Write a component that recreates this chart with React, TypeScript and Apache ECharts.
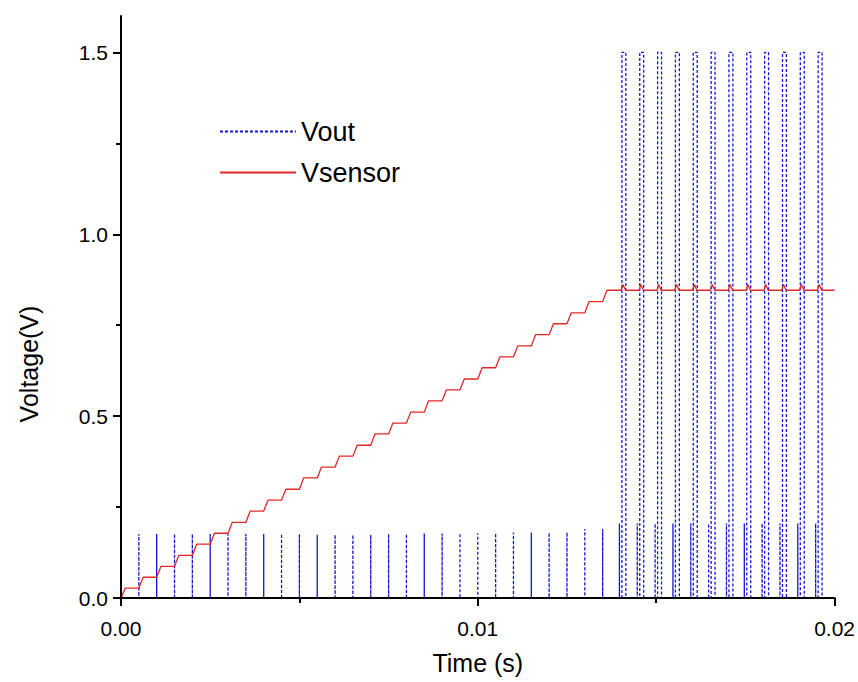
import React, { useEffect, useRef } from "react";
import * as echarts from "echarts";

// Small Vout spikes (time s, peak V) before the pulse train
const spikeTimes = [
  0.0005, 0.001, 0.0015, 0.002, 0.0025, 0.003, 0.0035, 0.004, 0.0045, 0.005,
  0.0055, 0.006, 0.0065, 0.007, 0.0075, 0.008, 0.0085, 0.009, 0.0095, 0.01,
  0.0105, 0.011, 0.0115, 0.012, 0.0125, 0.013, 0.0135,
];
const spikeHeights = [
  0.176, 0.176, 0.176, 0.176, 0.176, 0.176, 0.176, 0.176, 0.176, 0.176,
  0.174, 0.174, 0.174, 0.174, 0.176, 0.176, 0.177, 0.177, 0.178, 0.178,
  0.178, 0.18, 0.18, 0.18, 0.181, 0.19, 0.19,
];

// Pulse train: small spike just before each 1.5 V pulse
const preSpikeTimes = [
  0.01397, 0.01447, 0.01497, 0.01547, 0.01597, 0.01647, 0.01697, 0.01747,
  0.01797, 0.01847, 0.01897, 0.01947,
];
const preSpikeHeights = [
  0.205, 0.205, 0.205, 0.205, 0.205, 0.205, 0.205, 0.205, 0.205, 0.205, 0.205,
  0.205,
];
const pulseRise = [
  0.01404, 0.01454, 0.01504, 0.01554, 0.01604, 0.01654, 0.01704, 0.01754,
  0.01804, 0.01854, 0.01904, 0.01954,
];
const pulseFall = [
  0.01415, 0.01465, 0.01515, 0.01565, 0.01615, 0.01665, 0.01715, 0.01765,
  0.01815, 0.01865, 0.01915, 0.01965,
];
const pulseHigh = [1.5, 1.5, 1.5, 1.5, 1.5, 1.5, 1.5, 1.5, 1.5, 1.5, 1.5, 1.5];

// Vsensor staircase
const stepTimes = [
  0, 0.0005, 0.001, 0.0015, 0.002, 0.0025, 0.003, 0.0035, 0.004, 0.0045,
  0.005, 0.0055, 0.006, 0.0065, 0.007, 0.0075, 0.008, 0.0085, 0.009, 0.0095,
  0.01, 0.0105, 0.011, 0.0115, 0.012, 0.0125, 0.013, 0.0135,
];
const stepLevels = [
  0.027, 0.057, 0.087, 0.117, 0.148, 0.178, 0.208, 0.239, 0.269, 0.299,
  0.33, 0.36, 0.39, 0.42, 0.451, 0.481, 0.511, 0.542, 0.572, 0.602, 0.633,
  0.663, 0.693, 0.724, 0.754, 0.784, 0.815, 0.846,
];
const settledLevel = 0.846;
const bumpPeak = [
  0.862, 0.862, 0.862, 0.862, 0.862, 0.862, 0.862, 0.862, 0.862, 0.862, 0.862,
  0.862,
];
const tEnd = 0.02;

const xTicks = [0, 0.01, 0.02];
const yMajor = [0, 0.5, 1.0, 1.5];
const yMinor = [0.25, 0.75, 1.25];

const FONT = "'Liberation Sans', Arial, sans-serif";

function buildVout(): number[][] {
  const pts: number[][] = [[0, 0]];
  spikeTimes.forEach((t, i) => {
    pts.push([t, 0], [t, spikeHeights[i]], [t, 0]);
  });
  pulseRise.forEach((t, i) => {
    const s = preSpikeTimes[i];
    pts.push([s, 0], [s, preSpikeHeights[i]], [s, 0]);
    pts.push([t, 0], [t, pulseHigh[i]], [pulseFall[i], pulseHigh[i]], [pulseFall[i], 0]);
  });
  pts.push([tEnd, 0]);
  return pts;
}

function buildSensor(): number[][] {
  const pts: number[][] = [[0, 0]];
  const rise = 0.00012;
  stepTimes.forEach((t, i) => {
    const next = i + 1 < stepTimes.length ? stepTimes[i + 1] : pulseRise[0] - 0.00002;
    pts.push([t + rise, stepLevels[i]], [next, stepLevels[i]]);
  });
  pulseRise.forEach((t, i) => {
    pts.push([t - 0.00002, settledLevel], [t + 0.00003, bumpPeak[i]], [t + 0.0001, settledLevel]);
  });
  pts.push([tEnd, settledLevel]);
  return pts;
}

export default function App() {
  const ref = useRef<HTMLDivElement>(null);
  useEffect(() => {
    if (!ref.current) return;
    const chart = echarts.init(ref.current, undefined, { renderer: "svg" });
    const axisColor = "#000";
    chart.setOption({
      animation: false,
      backgroundColor: "#fff",
      grid: { left: 121, right: 22, top: 16, bottom: 84, containLabel: false },
      legend: {
        data: ["Vout", "Vsensor"],
        orient: "vertical",
        left: 219,
        top: 118,
        padding: 0,
        itemWidth: 76,
        itemHeight: 14,
        itemGap: 14,
        itemStyle: { opacity: 0 },
        textStyle: { fontSize: 27, color: "#000", fontFamily: FONT, lineHeight: 26 },
      },
      xAxis: {
        type: "value",
        min: 0,
        max: 0.02,
        interval: 0.01,
        z: 5,
        name: "Time (s)",
        nameLocation: "middle",
        nameGap: 52,
        nameTextStyle: { fontSize: 25, color: "#000", fontFamily: FONT },
        axisLine: { show: true, onZero: false, lineStyle: { color: axisColor, width: 2 } },
        axisTick: { show: true, inside: false, length: 8, lineStyle: { color: axisColor, width: 2 }, customValues: xTicks },
        minorTick: { show: true, splitNumber: 2, length: 5, lineStyle: { color: axisColor, width: 2 } },
        axisLabel: {
          customValues: xTicks,
          formatter: (v: number) => v.toFixed(2),
          fontSize: 21,
          color: "#000",
          fontFamily: FONT,
          margin: 20,
        },
        splitLine: { show: false },
      },
      yAxis: [
        {
          type: "value",
          min: 0,
          max: 1.6,
          interval: 0.5,
          z: 5,
          name: "Voltage(V)",
          nameLocation: "middle",
          nameGap: 80,
          nameTextStyle: { fontSize: 25, color: "#000", fontFamily: FONT, padding: [0, 114, 0, 0] },
          axisLine: { show: true, onZero: false, lineStyle: { color: axisColor, width: 2 } },
          axisTick: { show: true, inside: false, length: 8, lineStyle: { color: axisColor, width: 2 }, customValues: yMajor },
          axisLabel: {
            customValues: yMajor,
            formatter: (v: number) => v.toFixed(1),
            fontSize: 21,
            color: "#000",
            fontFamily: FONT,
            margin: 13,
          },
          splitLine: { show: false },
        },
        {
          type: "value",
          min: 0,
          max: 1.6,
          position: "left",
          axisLine: { show: false },
          axisTick: { show: true, inside: false, length: 5, lineStyle: { color: axisColor, width: 2 }, customValues: yMinor },
          axisLabel: { show: false },
          splitLine: { show: false },
        },
      ],
      series: [
        {
          name: "Vout",
          type: "line",
          data: buildVout(),
          symbol: "none",
          showSymbol: false,
          lineStyle: { color: "#1414d2", width: 1.3, type: [3, 2] },
          itemStyle: { color: "#1414d2" },
          z: 2,
        },
        {
          name: "Vsensor",
          type: "line",
          data: buildSensor(),
          symbol: "none",
          showSymbol: false,
          lineStyle: { color: "#e02828", width: 1.3 },
          itemStyle: { color: "#e02828" },
          z: 3,
        },
      ],
    });
    return () => chart.dispose();
  }, []);
  return (
    <div
      ref={ref}
      style={{ position: "fixed", left: 0, top: 0, width: 858, height: 682, background: "#fff" }}
    />
  );
}
